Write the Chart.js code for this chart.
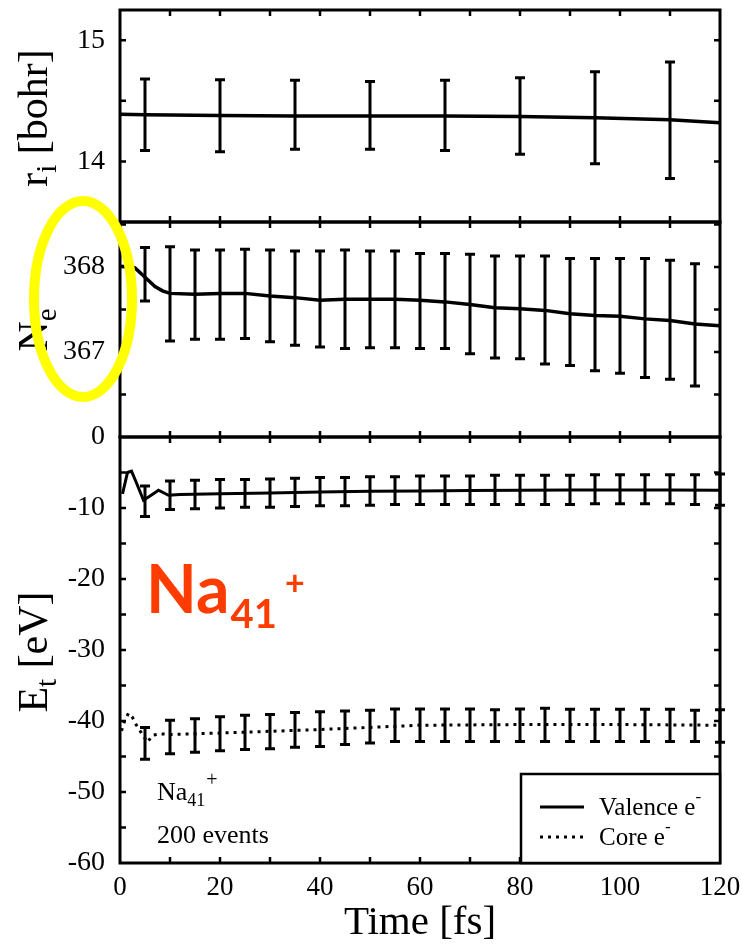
<!DOCTYPE html>
<html>
<head>
<meta charset="utf-8">
<script src="https://cdn.jsdelivr.net/npm/chart.js@4.4.1/dist/chart.umd.min.js"></script>
<style>
  html, body { margin: 0; padding: 0; background: #fff; }
  #wrap { position: relative; width: 742px; height: 946px; }
  #wrap canvas { position: absolute; left: 0; top: 0; }
</style>
</head>
<body>
<div id="wrap">
  <canvas id="chart-r" width="742" height="946"></canvas>
  <canvas id="chart-n" width="742" height="946"></canvas>
  <canvas id="chart-e" width="742" height="946"></canvas>
</div>
<script>
// --- axes -----------------------------------------------------------
const timeTicks = [0, 10, 20, 30, 40, 50, 60, 70, 80, 90, 100, 110, 120];
const timeLabels = [0, 20, 40, 60, 80, 100, 120];
const radiusTicks = [13.5, 14, 14.5, 15];
const radiusLabels = [14, 15];
const electronTicks = [366, 366.5, 367, 367.5, 368, 368.5];
const electronLabels = [367, 368];
const energyTicks = [-60, -55, -50, -45, -40, -35, -30, -25, -20, -15, -10, -5, 0];
const energyLabels = [-60, -50, -40, -30, -20, -10, 0];

// --- top panel: ionic radius r_i [bohr] -----------------------------
const radiusTime = [0, 5, 20, 35, 50, 65, 80, 95, 110, 120];
const radiusMean = [14.39, 14.385, 14.38, 14.375, 14.375, 14.375, 14.37, 14.36, 14.345, 14.32];
const radiusErrTime = [5, 20, 35, 50, 65, 80, 95, 110];
const radiusErrHigh = [14.68, 14.675, 14.67, 14.66, 14.67, 14.69, 14.74, 14.82];
const radiusErrLow = [14.09, 14.08, 14.10, 14.10, 14.09, 14.06, 13.98, 13.86];

// --- middle panel: electron number N_e ------------------------------
const electronTime = [0, 2, 3, 5, 7, 8.5, 10, 15, 20, 25, 30, 35, 40, 45, 50, 55, 60, 65, 70, 75, 80, 85, 90, 95, 100, 105, 110, 115, 120];
const electronMean = [368.01, 368.00, 367.99, 367.88, 367.77, 367.72, 367.69, 367.68, 367.69, 367.69, 367.66, 367.64, 367.61, 367.62, 367.62, 367.62, 367.61, 367.59, 367.56, 367.52, 367.51, 367.49, 367.45, 367.43, 367.42, 367.39, 367.37, 367.33, 367.31];
const electronErrTime = [5, 10, 15, 20, 25, 30, 35, 40, 45, 50, 55, 60, 65, 70, 75, 80, 85, 90, 95, 100, 105, 110, 115];
const electronErrHigh = [368.23, 368.24, 368.20, 368.20, 368.21, 368.20, 368.19, 368.19, 368.20, 368.19, 368.19, 368.16, 368.16, 368.15, 368.13, 368.13, 368.13, 368.10, 368.10, 368.10, 368.10, 368.08, 368.04];
const electronErrLow = [367.60, 367.13, 367.15, 367.15, 367.16, 367.12, 367.08, 367.06, 367.04, 367.05, 367.05, 367.04, 367.04, 366.98, 366.93, 366.92, 366.86, 366.84, 366.78, 366.75, 366.70, 366.68, 366.60];

// --- bottom panel: energies E_t [eV] --------------------------------
const valenceTime = [0.5, 1.5, 2.3, 3.2, 4.7, 6, 7.7, 9.7, 12, 20, 30, 40, 50, 60, 70, 80, 90, 100, 110, 120];
const valenceMean = [-8.0, -5.0, -4.8, -6.3, -8.9, -8.3, -7.5, -8.2, -8.1, -8.0, -7.9, -7.75, -7.65, -7.6, -7.55, -7.5, -7.45, -7.45, -7.45, -7.5];
const coreTime = [0.3, 0.9, 1.7, 2.5, 3.2, 4.2, 5.5, 6.5, 8, 10, 20, 30, 40, 50, 60, 70, 80, 90, 100, 110, 120];
const coreMean = [-41.4, -40.0, -38.9, -39.5, -40.5, -41.6, -43.0, -42.0, -41.8, -41.9, -41.7, -41.45, -41.2, -40.9, -40.6, -40.55, -40.5, -40.5, -40.5, -40.55, -40.6];
const energyErrTime = [5, 10, 15, 20, 25, 30, 35, 40, 45, 50, 55, 60, 65, 70, 75, 80, 85, 90, 95, 100, 105, 110, 115, 120];
const valenceErrHigh = [-6.9, -6.2, -6.1, -6.0, -6.0, -5.9, -5.8, -5.7, -5.7, -5.6, -5.6, -5.5, -5.5, -5.5, -5.4, -5.4, -5.4, -5.4, -5.3, -5.3, -5.3, -5.3, -5.3, -5.2];
const valenceErrLow = [-11.2, -10.2, -10.1, -10.0, -9.9, -9.9, -9.8, -9.7, -9.7, -9.6, -9.5, -9.5, -9.5, -9.5, -9.5, -9.5, -9.5, -9.5, -9.4, -9.4, -9.4, -9.4, -9.5, -9.6];
const coreErrHigh = [-40.9, -39.9, -39.7, -39.4, -39.2, -39.1, -38.8, -38.7, -38.6, -38.5, -38.3, -38.3, -38.3, -38.3, -38.4, -38.3, -38.2, -38.35, -38.35, -38.35, -38.35, -38.35, -38.5, -38.4];
const coreErrLow = [-45.4, -44.6, -44.4, -44.2, -44.0, -43.9, -43.7, -43.6, -43.3, -43.1, -42.9, -42.9, -42.9, -42.9, -42.9, -42.9, -42.9, -42.9, -42.9, -42.9, -42.9, -42.9, -42.9, -43.0];

const SERIF = '"Liberation Serif", "DejaVu Serif", serif';
Chart.defaults.color = '#000';

const toPoints = (xs, ys) => xs.map((x, i) => ({ x: x, y: ys[i] }));

// error bars + boxed frame with inward ticks on all four sides
const framePlugin = {
    id: 'frame',
    afterDatasetsDraw(chart) {
        const { ctx, chartArea: a, scales: { x, y } } = chart;
        ctx.save();
        ctx.strokeStyle = '#000';
        ctx.lineCap = 'butt';

        chart.data.datasets.forEach(ds => {
            if (!ds.errTime) return;
            ctx.lineWidth = 3;
            ctx.beginPath();
            ds.errTime.forEach((t, i) => {
                const px = x.getPixelForValue(t);
                const top = y.getPixelForValue(ds.errHigh[i]);
                const bot = y.getPixelForValue(ds.errLow[i]);
                ctx.moveTo(px, top); ctx.lineTo(px, bot);
                ctx.moveTo(px - 5, top); ctx.lineTo(px + 5, top);
                ctx.moveTo(px - 5, bot); ctx.lineTo(px + 5, bot);
            });
            ctx.stroke();
        });

        const len = 6;
        ctx.lineWidth = 2.5;
        ctx.beginPath();
        x.ticks.forEach(t => {
            const px = x.getPixelForValue(t.value);
            if (px <= a.left + 1 || px >= a.right - 1) return;
            ctx.moveTo(px, a.top); ctx.lineTo(px, a.top + len);
            ctx.moveTo(px, a.bottom); ctx.lineTo(px, a.bottom - len);
        });
        y.ticks.forEach(t => {
            const py = y.getPixelForValue(t.value);
            if (py <= a.top + 1 || py >= a.bottom - 1) return;
            ctx.moveTo(a.left, py); ctx.lineTo(a.left + len, py);
            ctx.moveTo(a.right, py); ctx.lineTo(a.right - len, py);
        });
        ctx.stroke();
        ctx.lineWidth = 3;
        ctx.strokeRect(a.left, a.top, a.right - a.left, a.bottom - a.top);
        ctx.restore();
    }
};

// text with sub/superscripts, drawn left to right from (x, baseline)
function drawRich(ctx, x, y, parts, family, weight) {
    parts.forEach(p => {
        ctx.font = (weight || '') + ' ' + p.size + 'px ' + family;
        ctx.fillText(p.text, x + (p.dx || 0), y + (p.dy || 0));
        x += ctx.measureText(p.text).width + (p.dx || 0);
    });
}

function richWidth(ctx, parts, family) {
    let w = 0;
    parts.forEach(p => { ctx.font = p.size + 'px ' + family; w += ctx.measureText(p.text).width; });
    return w;
}

function drawAxisTitle(ctx, baseX, centerY, parts) {
    ctx.save();
    ctx.translate(baseX, centerY);
    ctx.rotate(-Math.PI / 2);
    ctx.fillStyle = '#000';
    ctx.textBaseline = 'alphabetic';
    ctx.textAlign = 'left';
    drawRich(ctx, -richWidth(ctx, parts, SERIF) / 2, 0, parts, SERIF);
    ctx.restore();
}

const decorPlugin = {
    id: 'decor',
    afterDraw(chart) {
        const ctx = chart.ctx;
        const ds = chart.data.datasets;
        ctx.save();
        ctx.textBaseline = 'alphabetic';
        ctx.textAlign = 'left';
        ctx.fillStyle = '#000';

        // y axis titles
        drawAxisTitle(ctx, 47, 118, [{ text: 'r', size: 42 }, { text: 'i', size: 29, dy: 9 }, { text: ' [bohr]', size: 42 }]);
        drawAxisTitle(ctx, 47, 330, [{ text: 'N', size: 42 }, { text: 'e', size: 29, dy: 9 }]);
        drawAxisTitle(ctx, 47, 652, [{ text: 'E', size: 42 }, { text: 't', size: 29, dy: 9 }, { text: ' [eV]', size: 42 }]);

        // legend
        const lx = 521, ly = 774, lr = 720, lb = 863;
        ctx.fillStyle = '#fff';
        ctx.fillRect(lx, ly, lr - lx, lb - ly);
        ctx.strokeStyle = '#000';
        ctx.lineWidth = 2.5;
        ctx.strokeRect(lx, ly, lr - lx, lb - ly);
        [[ds[0], 807, 815, 'Valence e'], [ds[1], 837, 845, 'Core e']].forEach(([d, sy, by, label]) => {
            ctx.save();
            ctx.lineWidth = d.borderWidth;
            ctx.setLineDash(d.borderDash || []);
            ctx.beginPath();
            ctx.moveTo(540, sy); ctx.lineTo(584, sy);
            ctx.stroke();
            ctx.restore();
            ctx.fillStyle = '#000';
            drawRich(ctx, 599, by, [{ text: label, size: 25 }, { text: '-', size: 17, dy: -13 }], SERIF);
        });

        // in-plot note
        ctx.fillStyle = '#000';
        drawRich(ctx, 157, 800, [{ text: 'Na', size: 26 }, { text: '41', size: 18, dy: 6 }, { text: '+', size: 20, dy: -14, dx: 1 }], SERIF);
        drawRich(ctx, 157, 843, [{ text: '200 events', size: 26 }], SERIF);

        // hand-drawn style highlights
        ctx.fillStyle = '#ff3c00';
        const RED = 'Lato, "Noto Sans", sans-serif';
        drawRich(ctx, 146, 613, [{ text: 'Na', size: 66 }, { text: '41', size: 40, dy: 15, dx: 1 }, { text: '+', size: 34, dy: -18, dx: 8 }], RED, 'bold');

        ctx.strokeStyle = '#ffff00';
        ctx.lineWidth = 10;
        ctx.setLineDash([]);
        ctx.beginPath();
        ctx.ellipse(83, 299, 49, 98, 0, 0, Math.PI * 2);
        ctx.stroke();
        ctx.restore();
    }
};

function panelOptions(yMin, yMax, yTicks, yLabels, padTop, padBottom, showX) {
    return {
        responsive: false,
        animation: false,
        devicePixelRatio: 1,
        layout: { padding: { top: padTop, bottom: padBottom, left: 0, right: 22 } },
        plugins: { legend: { display: false }, tooltip: { enabled: false } },
        scales: {
            x: {
                type: 'linear',
                min: 0,
                max: 120,
                afterBuildTicks: s => { s.ticks = timeTicks.map(v => ({ value: v })); },
                afterFit: s => { s.height = showX ? 83 : 0; s.paddingLeft = 0; s.paddingRight = 0; },
                grid: { display: false, drawTicks: false },
                border: { display: false },
                ticks: {
                    display: showX,
                    autoSkip: false,
                    maxRotation: 0,
                    padding: 9,
                    color: '#000',
                    font: { family: SERIF, size: 27 },
                    callback: v => timeLabels.includes(v) ? String(v) : ''
                },
                title: {
                    display: showX,
                    text: 'Time [fs]',
                    color: '#000',
                    padding: { top: 0, bottom: 0 },
                    font: { family: SERIF, size: 41, lineHeight: 1.1 }
                }
            },
            y: {
                min: yMin,
                max: yMax,
                afterBuildTicks: s => { s.ticks = yTicks.map(v => ({ value: v })); },
                afterFit: s => { s.width = 120; s.paddingTop = 0; s.paddingBottom = 0; },
                grid: { display: false, drawTicks: false },
                border: { display: false },
                ticks: {
                    autoSkip: false,
                    padding: 15,
                    color: '#000',
                    font: { family: SERIF, size: 28 },
                    callback: v => yLabels.includes(v) ? String(v) : ''
                }
            }
        }
    };
}

new Chart(document.getElementById('chart-r'), {
    type: 'line',
    data: {
        datasets: [{
            label: 'r_i',
            data: toPoints(radiusTime, radiusMean),
            borderColor: '#000',
            borderWidth: 3.5,
            pointRadius: 0,
            errTime: radiusErrTime, errHigh: radiusErrHigh, errLow: radiusErrLow
        }]
    },
    options: panelOptions(13.5, 15.25, radiusTicks, radiusLabels, 10, 724, false),
    plugins: [framePlugin]
});

new Chart(document.getElementById('chart-n'), {
    type: 'line',
    data: {
        datasets: [{
            label: 'N_e',
            data: toPoints(electronTime, electronMean),
            borderColor: '#000',
            borderWidth: 3.5,
            pointRadius: 0,
            errTime: electronErrTime, errHigh: electronErrHigh, errLow: electronErrLow
        }]
    },
    options: panelOptions(366, 368.53, electronTicks, electronLabels, 222, 509, false),
    plugins: [framePlugin]
});

new Chart(document.getElementById('chart-e'), {
    type: 'line',
    data: {
        datasets: [{
            label: 'Valence e-',
            data: toPoints(valenceTime, valenceMean),
            borderColor: '#000',
            borderWidth: 3,
            pointRadius: 0,
            errTime: energyErrTime, errHigh: valenceErrHigh, errLow: valenceErrLow
        }, {
            label: 'Core e-',
            data: toPoints(coreTime, coreMean),
            borderColor: '#000',
            borderWidth: 3,
            borderDash: [3, 5],
            pointRadius: 0,
            errTime: energyErrTime, errHigh: coreErrHigh, errLow: coreErrLow
        }]
    },
    options: panelOptions(-60, 0, energyTicks, energyLabels, 437, 0, true),
    plugins: [framePlugin, decorPlugin]
});
</script>
</body>
</html>
